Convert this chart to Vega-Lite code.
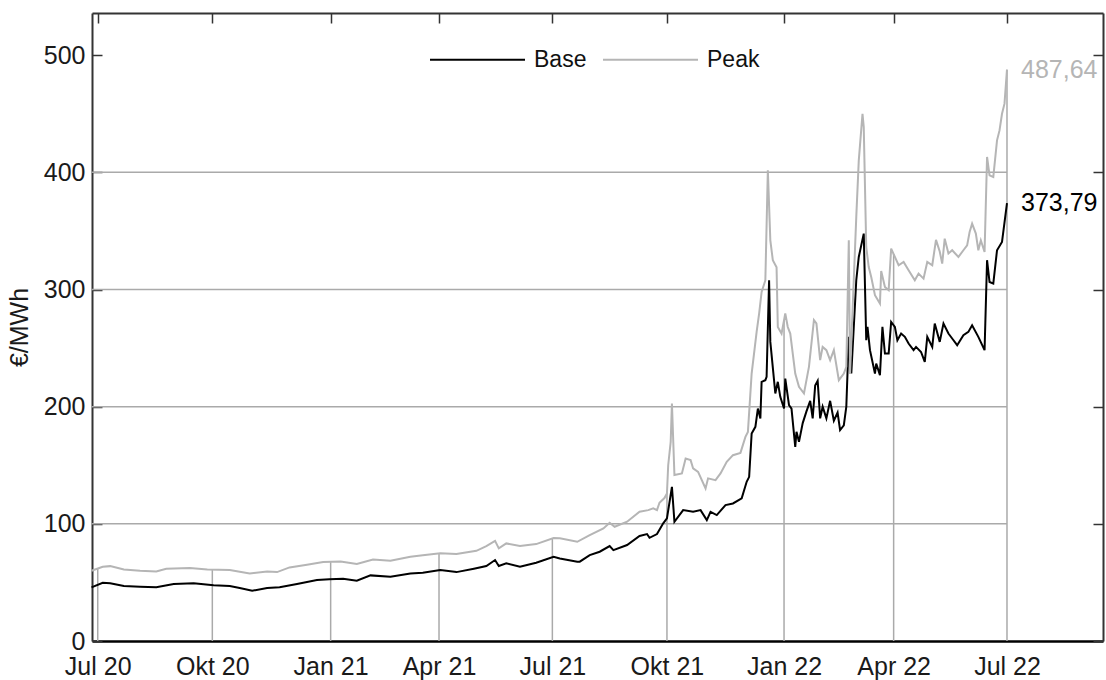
{
  "$schema": "https://vega.github.io/schema/vega-lite/v6.json",
  "width": 1011,
  "height": 628,
  "autosize": "none",
  "padding": {"left": 92, "top": 13, "right": 3, "bottom": 39},
  "config": {
    "font": "Liberation Sans",
    "view": {"stroke": null},
    "locale": {"number": {"decimal": ",", "thousands": ".", "grouping": [3], "currency": ["", " €"]}}
  },
  "datasets": {
    "levels": [
      {"v": 100, "from": "2020-06-26", "to": "2022-07-01"},
      {"v": 200, "from": "2020-06-26", "to": "2022-07-01"},
      {"v": 300, "from": "2020-06-26", "to": "2022-07-01"},
      {"v": 400, "from": "2020-06-26", "to": "2022-07-01"}
    ],
    "quarters": [
      {"d": "2020-07-01", "top": 61.9},
      {"d": "2020-10-01", "top": 61.0},
      {"d": "2021-01-04", "top": 67.6},
      {"d": "2021-04-01", "top": 74.7},
      {"d": "2021-07-01", "top": 87.4},
      {"d": "2021-10-01", "top": 126},
      {"d": "2022-01-03", "top": 274},
      {"d": "2022-04-01", "top": 330.2},
      {"d": "2022-07-01", "top": 487.64}
    ],
    "prices": [
      {"d": "2020-06-26", "s": "Base", "v": 45.8},
      {"d": "2020-07-05", "s": "Base", "v": 49.7},
      {"d": "2020-07-11", "s": "Base", "v": 49.2},
      {"d": "2020-07-22", "s": "Base", "v": 46.9},
      {"d": "2020-08-04", "s": "Base", "v": 46.3},
      {"d": "2020-08-17", "s": "Base", "v": 45.8},
      {"d": "2020-08-31", "s": "Base", "v": 48.6},
      {"d": "2020-09-16", "s": "Base", "v": 49.2},
      {"d": "2020-10-02", "s": "Base", "v": 47.5},
      {"d": "2020-10-15", "s": "Base", "v": 46.9},
      {"d": "2020-10-23", "s": "Base", "v": 45.2},
      {"d": "2020-11-02", "s": "Base", "v": 42.9},
      {"d": "2020-11-14", "s": "Base", "v": 45.2},
      {"d": "2020-11-24", "s": "Base", "v": 45.8},
      {"d": "2020-12-08", "s": "Base", "v": 48.6},
      {"d": "2020-12-24", "s": "Base", "v": 52.0},
      {"d": "2021-01-03", "s": "Base", "v": 52.6},
      {"d": "2021-01-14", "s": "Base", "v": 53.2},
      {"d": "2021-01-25", "s": "Base", "v": 51.4},
      {"d": "2021-02-05", "s": "Base", "v": 56.0},
      {"d": "2021-02-21", "s": "Base", "v": 54.8},
      {"d": "2021-03-09", "s": "Base", "v": 57.7},
      {"d": "2021-03-19", "s": "Base", "v": 58.3},
      {"d": "2021-04-02", "s": "Base", "v": 60.6},
      {"d": "2021-04-15", "s": "Base", "v": 58.8},
      {"d": "2021-04-29", "s": "Base", "v": 61.7},
      {"d": "2021-05-09", "s": "Base", "v": 64.0},
      {"d": "2021-05-16", "s": "Base", "v": 69.1},
      {"d": "2021-05-19", "s": "Base", "v": 64.0},
      {"d": "2021-05-25", "s": "Base", "v": 66.3},
      {"d": "2021-06-05", "s": "Base", "v": 63.4},
      {"d": "2021-06-18", "s": "Base", "v": 66.8},
      {"d": "2021-07-02", "s": "Base", "v": 71.9},
      {"d": "2021-07-07", "s": "Base", "v": 70.5},
      {"d": "2021-07-21", "s": "Base", "v": 67.7},
      {"d": "2021-07-23", "s": "Base", "v": 67.7},
      {"d": "2021-07-31", "s": "Base", "v": 73.3},
      {"d": "2021-08-08", "s": "Base", "v": 76.2},
      {"d": "2021-08-16", "s": "Base", "v": 81.0},
      {"d": "2021-08-19", "s": "Base", "v": 77.6},
      {"d": "2021-08-30", "s": "Base", "v": 81.9},
      {"d": "2021-09-09", "s": "Base", "v": 89.6},
      {"d": "2021-09-15", "s": "Base", "v": 91.3},
      {"d": "2021-09-17", "s": "Base", "v": 88.1},
      {"d": "2021-09-23", "s": "Base", "v": 91.3},
      {"d": "2021-09-28", "s": "Base", "v": 100.4},
      {"d": "2021-10-01", "s": "Base", "v": 104.6},
      {"d": "2021-10-05", "s": "Base", "v": 131.6},
      {"d": "2021-10-07", "s": "Base", "v": 101.8},
      {"d": "2021-10-14", "s": "Base", "v": 111.7},
      {"d": "2021-10-22", "s": "Base", "v": 110.3},
      {"d": "2021-10-28", "s": "Base", "v": 111.7},
      {"d": "2021-11-02", "s": "Base", "v": 103.2},
      {"d": "2021-11-05", "s": "Base", "v": 110.3},
      {"d": "2021-11-10", "s": "Base", "v": 107.5},
      {"d": "2021-11-17", "s": "Base", "v": 116.0},
      {"d": "2021-11-23", "s": "Base", "v": 117.4},
      {"d": "2021-11-30", "s": "Base", "v": 121.7},
      {"d": "2021-12-04", "s": "Base", "v": 135.9},
      {"d": "2021-12-06", "s": "Base", "v": 140.1},
      {"d": "2021-12-08", "s": "Base", "v": 177.1},
      {"d": "2021-12-11", "s": "Base", "v": 182.8},
      {"d": "2021-12-13", "s": "Base", "v": 198.4},
      {"d": "2021-12-15", "s": "Base", "v": 189.9},
      {"d": "2021-12-16", "s": "Base", "v": 221.2},
      {"d": "2021-12-19", "s": "Base", "v": 222.6},
      {"d": "2021-12-20", "s": "Base", "v": 225.4},
      {"d": "2021-12-22", "s": "Base", "v": 307.9},
      {"d": "2021-12-23", "s": "Base", "v": 255.3},
      {"d": "2021-12-27", "s": "Base", "v": 211.3},
      {"d": "2021-12-29", "s": "Base", "v": 221.2},
      {"d": "2021-12-31", "s": "Base", "v": 208.4},
      {"d": "2022-01-03", "s": "Base", "v": 198.4},
      {"d": "2022-01-04", "s": "Base", "v": 224.0},
      {"d": "2022-01-07", "s": "Base", "v": 201.3},
      {"d": "2022-01-09", "s": "Base", "v": 198.4},
      {"d": "2022-01-12", "s": "Base", "v": 165.7},
      {"d": "2022-01-13", "s": "Base", "v": 178.5},
      {"d": "2022-01-15", "s": "Base", "v": 170},
      {"d": "2022-01-18", "s": "Base", "v": 186},
      {"d": "2022-01-21", "s": "Base", "v": 196},
      {"d": "2022-01-24", "s": "Base", "v": 205},
      {"d": "2022-01-26", "s": "Base", "v": 190},
      {"d": "2022-01-28", "s": "Base", "v": 218},
      {"d": "2022-01-30", "s": "Base", "v": 222},
      {"d": "2022-02-01", "s": "Base", "v": 190},
      {"d": "2022-02-03", "s": "Base", "v": 200},
      {"d": "2022-02-06", "s": "Base", "v": 190},
      {"d": "2022-02-09", "s": "Base", "v": 205},
      {"d": "2022-02-12", "s": "Base", "v": 188},
      {"d": "2022-02-15", "s": "Base", "v": 195},
      {"d": "2022-02-17", "s": "Base", "v": 180},
      {"d": "2022-02-20", "s": "Base", "v": 184},
      {"d": "2022-02-22", "s": "Base", "v": 200},
      {"d": "2022-02-24", "s": "Base", "v": 259.6},
      {"d": "2022-02-26", "s": "Base", "v": 228.3},
      {"d": "2022-03-02", "s": "Base", "v": 307.9},
      {"d": "2022-03-04", "s": "Base", "v": 327.8},
      {"d": "2022-03-08", "s": "Base", "v": 347.7},
      {"d": "2022-03-10", "s": "Base", "v": 256.7},
      {"d": "2022-03-11", "s": "Base", "v": 268.1},
      {"d": "2022-03-13", "s": "Base", "v": 248.2},
      {"d": "2022-03-17", "s": "Base", "v": 228.3},
      {"d": "2022-03-18", "s": "Base", "v": 236.8},
      {"d": "2022-03-21", "s": "Base", "v": 226.9},
      {"d": "2022-03-23", "s": "Base", "v": 268.1},
      {"d": "2022-03-25", "s": "Base", "v": 245.4},
      {"d": "2022-03-28", "s": "Base", "v": 245.4},
      {"d": "2022-03-30", "s": "Base", "v": 272.3},
      {"d": "2022-04-02", "s": "Base", "v": 268.1},
      {"d": "2022-04-04", "s": "Base", "v": 256.7},
      {"d": "2022-04-07", "s": "Base", "v": 262.4},
      {"d": "2022-04-10", "s": "Base", "v": 259.6},
      {"d": "2022-04-13", "s": "Base", "v": 253.9},
      {"d": "2022-04-17", "s": "Base", "v": 248.2},
      {"d": "2022-04-19", "s": "Base", "v": 251.0},
      {"d": "2022-04-23", "s": "Base", "v": 246.7},
      {"d": "2022-04-26", "s": "Base", "v": 238.2},
      {"d": "2022-04-28", "s": "Base", "v": 259.6},
      {"d": "2022-05-02", "s": "Base", "v": 251.0},
      {"d": "2022-05-04", "s": "Base", "v": 271.0},
      {"d": "2022-05-08", "s": "Base", "v": 255.3},
      {"d": "2022-05-11", "s": "Base", "v": 271.0},
      {"d": "2022-05-15", "s": "Base", "v": 262.4},
      {"d": "2022-05-18", "s": "Base", "v": 258.2},
      {"d": "2022-05-22", "s": "Base", "v": 252.5},
      {"d": "2022-05-27", "s": "Base", "v": 261.0},
      {"d": "2022-05-31", "s": "Base", "v": 263.8},
      {"d": "2022-06-03", "s": "Base", "v": 269.5},
      {"d": "2022-06-08", "s": "Base", "v": 259.6},
      {"d": "2022-06-13", "s": "Base", "v": 248.2},
      {"d": "2022-06-15", "s": "Base", "v": 325.0},
      {"d": "2022-06-17", "s": "Base", "v": 306.4},
      {"d": "2022-06-20", "s": "Base", "v": 305.0},
      {"d": "2022-06-23", "s": "Base", "v": 333.5},
      {"d": "2022-06-27", "s": "Base", "v": 340.6},
      {"d": "2022-07-01", "s": "Base", "v": 373.79},
      {"d": "2020-06-26", "s": "Peak", "v": 60.0},
      {"d": "2020-07-05", "s": "Peak", "v": 63.4},
      {"d": "2020-07-11", "s": "Peak", "v": 63.9},
      {"d": "2020-07-22", "s": "Peak", "v": 61.1},
      {"d": "2020-08-04", "s": "Peak", "v": 60.0},
      {"d": "2020-08-17", "s": "Peak", "v": 59.4},
      {"d": "2020-08-25", "s": "Peak", "v": 61.7},
      {"d": "2020-09-13", "s": "Peak", "v": 62.3},
      {"d": "2020-09-27", "s": "Peak", "v": 61.1},
      {"d": "2020-10-15", "s": "Peak", "v": 60.6},
      {"d": "2020-10-31", "s": "Peak", "v": 57.7},
      {"d": "2020-11-14", "s": "Peak", "v": 59.4},
      {"d": "2020-11-22", "s": "Peak", "v": 58.8},
      {"d": "2020-12-02", "s": "Peak", "v": 62.8},
      {"d": "2020-12-16", "s": "Peak", "v": 65.1},
      {"d": "2020-12-29", "s": "Peak", "v": 67.4},
      {"d": "2021-01-12", "s": "Peak", "v": 67.9},
      {"d": "2021-01-25", "s": "Peak", "v": 65.7},
      {"d": "2021-02-07", "s": "Peak", "v": 69.6},
      {"d": "2021-02-21", "s": "Peak", "v": 68.5},
      {"d": "2021-03-09", "s": "Peak", "v": 71.9},
      {"d": "2021-03-19", "s": "Peak", "v": 73.1},
      {"d": "2021-04-02", "s": "Peak", "v": 74.8},
      {"d": "2021-04-15", "s": "Peak", "v": 74.2},
      {"d": "2021-05-01", "s": "Peak", "v": 77.0},
      {"d": "2021-05-09", "s": "Peak", "v": 81.0},
      {"d": "2021-05-16", "s": "Peak", "v": 85.5},
      {"d": "2021-05-19", "s": "Peak", "v": 79.1},
      {"d": "2021-05-25", "s": "Peak", "v": 83.3},
      {"d": "2021-06-05", "s": "Peak", "v": 81.0},
      {"d": "2021-06-18", "s": "Peak", "v": 82.7},
      {"d": "2021-07-02", "s": "Peak", "v": 87.8},
      {"d": "2021-07-07", "s": "Peak", "v": 87.6},
      {"d": "2021-07-21", "s": "Peak", "v": 84.7},
      {"d": "2021-07-31", "s": "Peak", "v": 90.4},
      {"d": "2021-08-11", "s": "Peak", "v": 96.1},
      {"d": "2021-08-16", "s": "Peak", "v": 100.9},
      {"d": "2021-08-20", "s": "Peak", "v": 97.5},
      {"d": "2021-08-30", "s": "Peak", "v": 101.8},
      {"d": "2021-09-09", "s": "Peak", "v": 110.3},
      {"d": "2021-09-16", "s": "Peak", "v": 111.7},
      {"d": "2021-09-20", "s": "Peak", "v": 113.2},
      {"d": "2021-09-23", "s": "Peak", "v": 111.7},
      {"d": "2021-09-25", "s": "Peak", "v": 118.0},
      {"d": "2021-09-29", "s": "Peak", "v": 122.0},
      {"d": "2021-10-01", "s": "Peak", "v": 126.0},
      {"d": "2021-10-02", "s": "Peak", "v": 150.0},
      {"d": "2021-10-04", "s": "Peak", "v": 170.0},
      {"d": "2021-10-05", "s": "Peak", "v": 202.7},
      {"d": "2021-10-07", "s": "Peak", "v": 141.6},
      {"d": "2021-10-13", "s": "Peak", "v": 143.0},
      {"d": "2021-10-16", "s": "Peak", "v": 155.8},
      {"d": "2021-10-20", "s": "Peak", "v": 154.4},
      {"d": "2021-10-22", "s": "Peak", "v": 147.3},
      {"d": "2021-10-26", "s": "Peak", "v": 144.4},
      {"d": "2021-11-01", "s": "Peak", "v": 130.2},
      {"d": "2021-11-03", "s": "Peak", "v": 138.8},
      {"d": "2021-11-09", "s": "Peak", "v": 137.3},
      {"d": "2021-11-13", "s": "Peak", "v": 143.0},
      {"d": "2021-11-18", "s": "Peak", "v": 152.9},
      {"d": "2021-11-23", "s": "Peak", "v": 158.6},
      {"d": "2021-11-29", "s": "Peak", "v": 160.6},
      {"d": "2021-12-03", "s": "Peak", "v": 174.2},
      {"d": "2021-12-05", "s": "Peak", "v": 178.5},
      {"d": "2021-12-08", "s": "Peak", "v": 228.3},
      {"d": "2021-12-12", "s": "Peak", "v": 263.8},
      {"d": "2021-12-14", "s": "Peak", "v": 279.5},
      {"d": "2021-12-16", "s": "Peak", "v": 297.9},
      {"d": "2021-12-19", "s": "Peak", "v": 307.9},
      {"d": "2021-12-21", "s": "Peak", "v": 401.7},
      {"d": "2021-12-23", "s": "Peak", "v": 342.0},
      {"d": "2021-12-25", "s": "Peak", "v": 325.0},
      {"d": "2021-12-28", "s": "Peak", "v": 319.0},
      {"d": "2021-12-29", "s": "Peak", "v": 268.0},
      {"d": "2022-01-01", "s": "Peak", "v": 262.4},
      {"d": "2022-01-04", "s": "Peak", "v": 279.5},
      {"d": "2022-01-06", "s": "Peak", "v": 268.0},
      {"d": "2022-01-08", "s": "Peak", "v": 262.4},
      {"d": "2022-01-12", "s": "Peak", "v": 228.3},
      {"d": "2022-01-15", "s": "Peak", "v": 216.9},
      {"d": "2022-01-19", "s": "Peak", "v": 211.3},
      {"d": "2022-01-23", "s": "Peak", "v": 234.0},
      {"d": "2022-01-27", "s": "Peak", "v": 273.8},
      {"d": "2022-01-29", "s": "Peak", "v": 271.0},
      {"d": "2022-02-01", "s": "Peak", "v": 239.7},
      {"d": "2022-02-03", "s": "Peak", "v": 251.0},
      {"d": "2022-02-06", "s": "Peak", "v": 248.2},
      {"d": "2022-02-09", "s": "Peak", "v": 239.7},
      {"d": "2022-02-12", "s": "Peak", "v": 248.2},
      {"d": "2022-02-16", "s": "Peak", "v": 222.6},
      {"d": "2022-02-20", "s": "Peak", "v": 228.3},
      {"d": "2022-02-22", "s": "Peak", "v": 234.0},
      {"d": "2022-02-24", "s": "Peak", "v": 342.0},
      {"d": "2022-02-25", "s": "Peak", "v": 228.0},
      {"d": "2022-03-02", "s": "Peak", "v": 362.0},
      {"d": "2022-03-04", "s": "Peak", "v": 410.0},
      {"d": "2022-03-07", "s": "Peak", "v": 450.0},
      {"d": "2022-03-08", "s": "Peak", "v": 438.6},
      {"d": "2022-03-10", "s": "Peak", "v": 336.3},
      {"d": "2022-03-12", "s": "Peak", "v": 319.2},
      {"d": "2022-03-14", "s": "Peak", "v": 310.7},
      {"d": "2022-03-17", "s": "Peak", "v": 295.1},
      {"d": "2022-03-21", "s": "Peak", "v": 288.0},
      {"d": "2022-03-22", "s": "Peak", "v": 315.8},
      {"d": "2022-03-25", "s": "Peak", "v": 302.2},
      {"d": "2022-03-28", "s": "Peak", "v": 299.4},
      {"d": "2022-03-30", "s": "Peak", "v": 334.9},
      {"d": "2022-04-02", "s": "Peak", "v": 327.8},
      {"d": "2022-04-05", "s": "Peak", "v": 320.7},
      {"d": "2022-04-09", "s": "Peak", "v": 323.5},
      {"d": "2022-04-13", "s": "Peak", "v": 316.4},
      {"d": "2022-04-18", "s": "Peak", "v": 307.9},
      {"d": "2022-04-21", "s": "Peak", "v": 313.6},
      {"d": "2022-04-25", "s": "Peak", "v": 309.3},
      {"d": "2022-04-28", "s": "Peak", "v": 323.5},
      {"d": "2022-05-02", "s": "Peak", "v": 320.7},
      {"d": "2022-05-05", "s": "Peak", "v": 342.4},
      {"d": "2022-05-08", "s": "Peak", "v": 332.4},
      {"d": "2022-05-10", "s": "Peak", "v": 322.1},
      {"d": "2022-05-12", "s": "Peak", "v": 343.4},
      {"d": "2022-05-15", "s": "Peak", "v": 330.7},
      {"d": "2022-05-18", "s": "Peak", "v": 333.5},
      {"d": "2022-05-23", "s": "Peak", "v": 327.8},
      {"d": "2022-05-27", "s": "Peak", "v": 333.5},
      {"d": "2022-05-30", "s": "Peak", "v": 337.7},
      {"d": "2022-06-01", "s": "Peak", "v": 349.1},
      {"d": "2022-06-03", "s": "Peak", "v": 356.2},
      {"d": "2022-06-06", "s": "Peak", "v": 347.7},
      {"d": "2022-06-08", "s": "Peak", "v": 333.5},
      {"d": "2022-06-10", "s": "Peak", "v": 342.0},
      {"d": "2022-06-13", "s": "Peak", "v": 332.0},
      {"d": "2022-06-15", "s": "Peak", "v": 413.1},
      {"d": "2022-06-17", "s": "Peak", "v": 397.4},
      {"d": "2022-06-20", "s": "Peak", "v": 396.0},
      {"d": "2022-06-23", "s": "Peak", "v": 427.3},
      {"d": "2022-06-25", "s": "Peak", "v": 435.8},
      {"d": "2022-06-27", "s": "Peak", "v": 450.0},
      {"d": "2022-06-29", "s": "Peak", "v": 458.6},
      {"d": "2022-07-01", "s": "Peak", "v": 487.64}
    ]
  },
  "layer": [
    {
      "data": {"name": "levels"},
      "mark": {"type": "rule", "color": "#aaaaaa", "strokeWidth": 1.5},
      "encoding": {
        "x": {
          "field": "from",
          "type": "temporal",
          "scale": {
            "type": "utc",
            "domain": [
              {"year": 2020, "month": 6, "date": 26, "hours": 9, "minutes": 36, "utc": true},
              {"year": 2022, "month": 9, "date": 16, "hours": 2, "utc": true}
            ]
          },
          "axis": {
            "orient": "bottom",
            "title": null,
            "grid": false,
            "ticks": false,
            "values": [
              {"year": 2020, "month": 7, "date": 1, "utc": true},
              {"year": 2020, "month": 10, "date": 1, "utc": true},
              {"year": 2021, "month": 1, "date": 4, "utc": true},
              {"year": 2021, "month": 4, "date": 1, "utc": true},
              {"year": 2021, "month": 7, "date": 1, "utc": true},
              {"year": 2021, "month": 10, "date": 1, "utc": true},
              {"year": 2022, "month": 1, "date": 3, "utc": true},
              {"year": 2022, "month": 4, "date": 1, "utc": true},
              {"year": 2022, "month": 7, "date": 1, "utc": true}
            ],
            "labelExpr": "['Jan','Feb','Mär','Apr','Mai','Jun','Jul','Aug','Sep','Okt','Nov','Dez'][utcmonth(datum.value)] + ' ' + utcFormat(datum.value, '%y')",
            "labelFont": "Liberation Sans",
            "labelFontSize": 25,
            "labelColor": "#1a1a1a",
            "labelPadding": 13,
            "labelFlush": false,
            "labelOverlap": false,
            "domainColor": "#000000",
            "domainWidth": 2.5
          }
        },
        "x2": {"field": "to"},
        "y": {
          "field": "v",
          "type": "quantitative",
          "scale": {"domain": [0, 536], "nice": false, "zero": true},
          "axis": {
            "orient": "left",
            "title": "€/MWh",
            "titleFont": "Liberation Sans",
            "titleFontSize": 25,
            "titleFontWeight": "normal",
            "titleColor": "#1a1a1a",
            "titlePadding": 11,
            "grid": false,
            "values": [0, 100, 200, 300, 400, 500],
            "tickSize": -10,
            "tickWidth": 1.5,
            "tickColor": "#333333",
            "labelPadding": 17,
            "labelFont": "Liberation Sans",
            "labelFontSize": 25,
            "labelColor": "#1a1a1a",
            "labelFlush": false,
            "labelOverlap": false,
            "domainColor": "#333333",
            "domainWidth": 2
          }
        }
      }
    },
    {
      "data": {"name": "quarters"},
      "mark": {"type": "rule", "color": "#aaaaaa", "strokeWidth": 1.5},
      "encoding": {
        "x": {
          "field": "d",
          "type": "temporal",
          "axis": {
            "orient": "top",
            "title": null,
            "grid": false,
            "labels": false,
            "values": [
              {"year": 2020, "month": 7, "date": 1, "utc": true},
              {"year": 2020, "month": 10, "date": 1, "utc": true},
              {"year": 2021, "month": 1, "date": 4, "utc": true},
              {"year": 2021, "month": 4, "date": 1, "utc": true},
              {"year": 2021, "month": 7, "date": 1, "utc": true},
              {"year": 2021, "month": 10, "date": 1, "utc": true},
              {"year": 2022, "month": 1, "date": 3, "utc": true},
              {"year": 2022, "month": 4, "date": 1, "utc": true},
              {"year": 2022, "month": 7, "date": 1, "utc": true}
            ],
            "tickSize": -10,
            "tickWidth": 1.5,
            "tickColor": "#333333",
            "domainColor": "#333333",
            "domainWidth": 2
          }
        },
        "y": {
          "field": "top",
          "type": "quantitative",
          "axis": {
            "orient": "right",
            "title": null,
            "grid": false,
            "labels": false,
            "values": [0, 100, 200, 300, 400, 500],
            "tickSize": -10,
            "tickWidth": 1.5,
            "tickColor": "#333333",
            "domainColor": "#333333",
            "domainWidth": 2
          }
        },
        "y2": {"datum": 0}
      }
    },
    {
      "data": {"name": "prices"},
      "mark": {"type": "line", "strokeWidth": 2, "interpolate": "linear"},
      "encoding": {
        "x": {"field": "d", "type": "temporal", "axis": null},
        "y": {"field": "v", "type": "quantitative", "axis": null},
        "color": {
          "field": "s",
          "type": "nominal",
          "scale": {"domain": ["Base", "Peak"], "range": ["#000000", "#b5b5b5"]},
          "legend": {
            "title": null,
            "orient": "none",
            "direction": "horizontal",
            "legendX": 337,
            "legendY": -2,
            "symbolType": "stroke",
            "symbolSize": 9025,
            "symbolStrokeWidth": 2,
            "labelFont": "Liberation Sans",
            "labelFontSize": 23,
            "labelColor": "#111111",
            "labelOffset": 8,
            "columnPadding": 12
          }
        }
      }
    },
    {
      "data": {"name": "prices"},
      "mark": {"type": "text", "align": "left", "baseline": "middle", "dx": 14, "fontSize": 25, "font": "Liberation Sans"},
      "encoding": {
        "x": {"aggregate": "max", "field": "d", "type": "temporal", "axis": null},
        "y": {"aggregate": {"argmax": "d"}, "field": "v", "type": "quantitative", "axis": null},
        "text": {"aggregate": {"argmax": "d"}, "field": "v", "type": "quantitative", "format": ".2f"},
        "color": {"field": "s", "type": "nominal", "legend": null}
      }
    }
  ]
}
